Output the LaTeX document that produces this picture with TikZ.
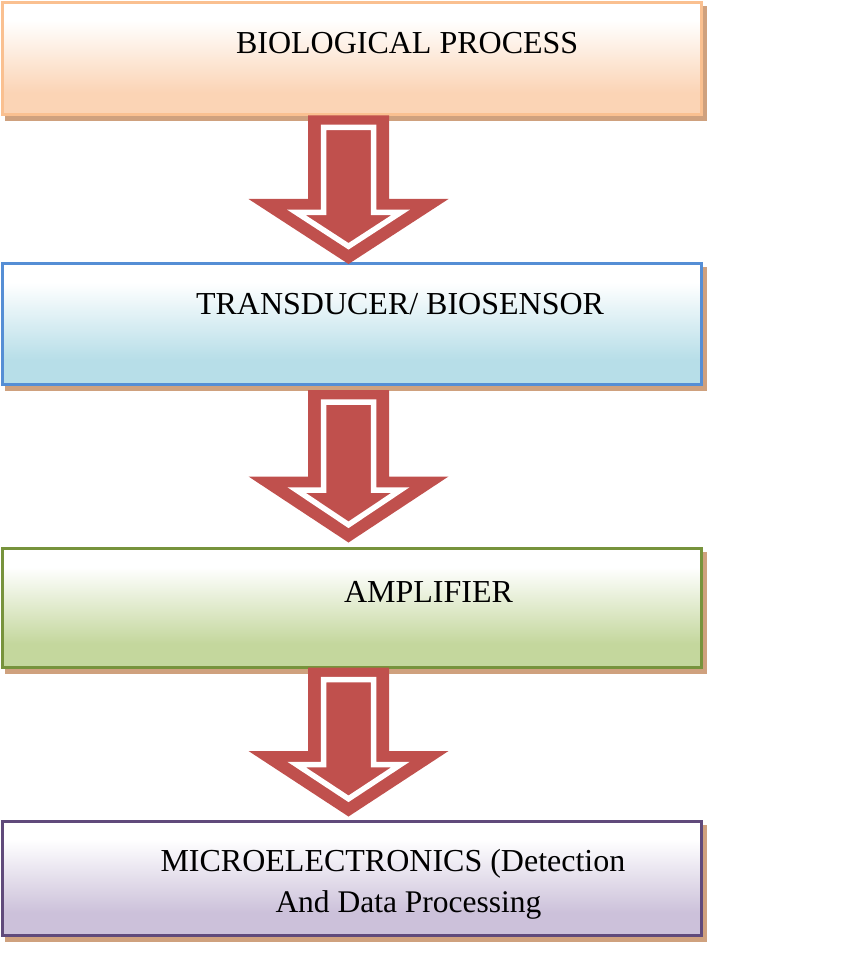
\documentclass[tikz,border=0pt]{standalone}
\usepackage{fontspec}
\setmainfont{Liberation Serif}
\definecolor{peach}{RGB}{251,212,181}
\definecolor{lblue}{RGB}{183,222,232}
\definecolor{lgreen}{RGB}{196,215,157}
\definecolor{lpurple}{RGB}{204,193,218}
\definecolor{borange}{RGB}{250,192,144}
\definecolor{bblue}{RGB}{85,142,213}
\definecolor{bgreen}{RGB}{119,147,60}
\definecolor{bpurple}{RGB}{96,74,123}
\definecolor{shadowc}{RGB}{207,161,126}
\definecolor{arrowred}{RGB}{192,80,77}
\pgfdeclareverticalshading{shpeach}{100bp}{color(0bp)=(peach); color(35bp)=(peach); color(67bp)=(white); color(100bp)=(white)}
\pgfdeclareverticalshading{shblue}{100bp}{color(0bp)=(lblue); color(35bp)=(lblue); color(67bp)=(white); color(100bp)=(white)}
\pgfdeclareverticalshading{shgreen}{100bp}{color(0bp)=(lgreen); color(35bp)=(lgreen); color(67bp)=(white); color(100bp)=(white)}
\pgfdeclareverticalshading{shpurple}{100bp}{color(0bp)=(lpurple); color(35bp)=(lpurple); color(67bp)=(white); color(100bp)=(white)}
\tikzset{
  box/.style={rectangle, line width=3pt, outer sep=0pt, inner sep=0pt, anchor=north west, minimum width=698.5pt},
  shadowbox/.style={box, fill=shadowc, draw=shadowc},
  lbl/.style={anchor=base west, inner sep=0pt, outer sep=0pt, font=\fontsize{32}{38}\selectfont},
  lblsmall/.style={lbl, font=\fontsize{31.5}{37}\selectfont},
  arrowout/.style={fill=arrowred},
  arrowin/.style={fill=arrowred, draw=white, line width=5.5pt, line join=miter},
}
% #1 name, #2 top y, #3 head y, #4 tip y
\newcommand{\blockarrow}[4]{%
  \coordinate (#1top) at (348.5,#2);
  \coordinate (#1tip) at (348.5,#4);
  \fill[arrowout] (308,#2) -- (389,#2) -- (389,#3) -- (448.5,#3) -- (#1tip) -- (248.5,#3) -- (308,#3) -- cycle;
  \draw[arrowin] (323.5,{#2+12}) -- (373.5,{#2+12}) -- (373.5,{#3+13.5}) -- (400.5,{#3+13.5}) -- (348.5,{#4-17.7}) -- (296.5,{#3+13.5}) -- (323.5,{#3+13.5}) -- cycle;
}
\begin{document}
\begin{tikzpicture}[x=1pt,y=-1pt]
\useasboundingbox (0,0) rectangle (843,968);
% shadows
\node[shadowbox, minimum height=112.5pt] (s1) at (6.5,7.5) {};
\node[shadowbox, minimum height=121pt] (s2) at (6.5,268) {};
\node[shadowbox, minimum height=119.5pt] (s3) at (6.5,553) {};
\node[shadowbox, minimum height=114.5pt] (s4) at (6.5,826) {};
% boxes
\node[box, draw=borange, shading=shpeach, minimum height=112.5pt] (b1) at (2.5,2.5) {};
\node[box, draw=bblue, shading=shblue, minimum height=121pt] (b2) at (2.5,263) {};
\node[box, draw=bgreen, shading=shgreen, minimum height=119.5pt] (b3) at (2.5,548) {};
\node[box, draw=bpurple, shading=shpurple, minimum height=114.5pt] (b4) at (2.5,821) {};
% arrows
\blockarrow{a1}{115.5}{199}{264}
\blockarrow{a2}{390}{476.5}{542.5}
\blockarrow{a3}{667.5}{751}{816.5}
% labels
\node[lbl] (t1) at (236,54) {BIOLOGICAL PROCESS};
\node[lbl] (t2) at (196,314) {TRANSDUCER/ BIOSENSOR};
\node[lbl] (t3) at (344,602) {AMPLIFIER};
\node[lbl] (t4a) at (160.5,871) {MICROELECTRONICS (Detection};
\node[lblsmall] (t4b) at (275.5,912) {And Data Processing};
\end{tikzpicture}
\end{document}
